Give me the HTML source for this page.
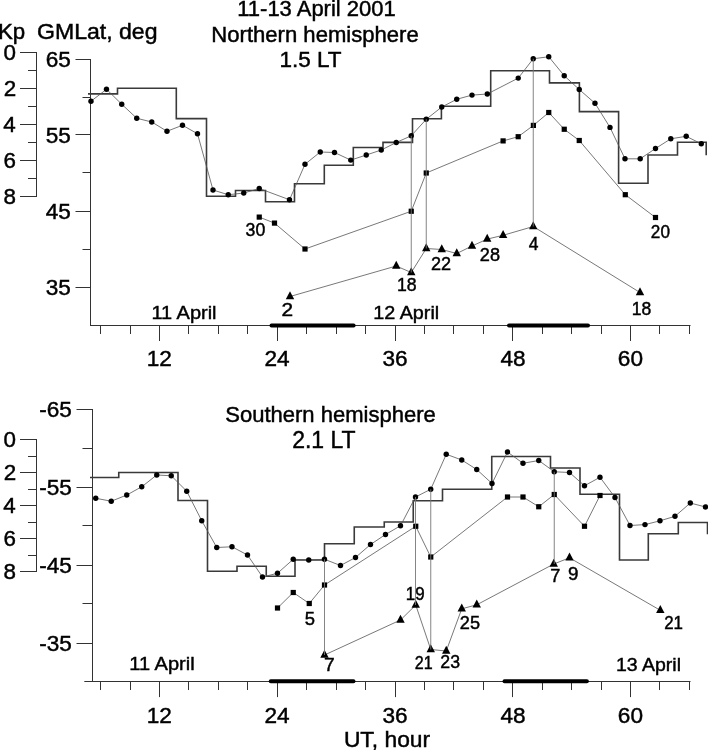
<!DOCTYPE html>
<html><head><meta charset="utf-8"><style>
html,body{margin:0;padding:0;background:#fff;}
svg{display:block;filter:grayscale(1);}
text{font-family:"Liberation Sans",sans-serif;fill:#000;stroke:#000;stroke-width:0.45px;}
</style></head><body>
<svg width="708" height="750" viewBox="0 0 708 750">
<rect width="708" height="750" fill="#fff"/>
<line x1="36.5" y1="52.0" x2="36.5" y2="197.0" stroke="#333" stroke-width="1"/>
<line x1="20" y1="52.5" x2="36.5" y2="52.5" stroke="#333" stroke-width="1"/>
<line x1="28" y1="70.5" x2="36.5" y2="70.5" stroke="#333" stroke-width="1"/>
<line x1="20" y1="88.5" x2="36.5" y2="88.5" stroke="#333" stroke-width="1"/>
<line x1="28" y1="106.5" x2="36.5" y2="106.5" stroke="#333" stroke-width="1"/>
<line x1="20" y1="124.5" x2="36.5" y2="124.5" stroke="#333" stroke-width="1"/>
<line x1="28" y1="142.5" x2="36.5" y2="142.5" stroke="#333" stroke-width="1"/>
<line x1="20" y1="160.5" x2="36.5" y2="160.5" stroke="#333" stroke-width="1"/>
<line x1="28" y1="178.5" x2="36.5" y2="178.5" stroke="#333" stroke-width="1"/>
<line x1="20" y1="196.5" x2="36.5" y2="196.5" stroke="#333" stroke-width="1"/>
<line x1="90.5" y1="59.0" x2="90.5" y2="326.0" stroke="#333" stroke-width="1"/>
<line x1="75.5" y1="59.5" x2="90.5" y2="59.5" stroke="#333" stroke-width="1"/>
<line x1="75.5" y1="134.5" x2="90.5" y2="134.5" stroke="#333" stroke-width="1"/>
<line x1="75.5" y1="211.5" x2="90.5" y2="211.5" stroke="#333" stroke-width="1"/>
<line x1="75.5" y1="287.5" x2="90.5" y2="287.5" stroke="#333" stroke-width="1"/>
<line x1="82.5" y1="97.5" x2="90.5" y2="97.5" stroke="#333" stroke-width="1"/>
<line x1="82.5" y1="172.5" x2="90.5" y2="172.5" stroke="#333" stroke-width="1"/>
<line x1="82.5" y1="249.5" x2="90.5" y2="249.5" stroke="#333" stroke-width="1"/>
<line x1="90.3" y1="325.5" x2="690.5" y2="325.5" stroke="#333" stroke-width="1"/>
<line x1="100.5" y1="325.5" x2="100.5" y2="334.0" stroke="#333" stroke-width="1"/>
<line x1="130.5" y1="325.5" x2="130.5" y2="334.0" stroke="#333" stroke-width="1"/>
<line x1="159.5" y1="325.5" x2="159.5" y2="341.0" stroke="#333" stroke-width="1"/>
<line x1="188.5" y1="325.5" x2="188.5" y2="334.0" stroke="#333" stroke-width="1"/>
<line x1="218.5" y1="325.5" x2="218.5" y2="334.0" stroke="#333" stroke-width="1"/>
<line x1="247.5" y1="325.5" x2="247.5" y2="334.0" stroke="#333" stroke-width="1"/>
<line x1="277.5" y1="325.5" x2="277.5" y2="341.0" stroke="#333" stroke-width="1"/>
<line x1="306.5" y1="325.5" x2="306.5" y2="334.0" stroke="#333" stroke-width="1"/>
<line x1="336.5" y1="325.5" x2="336.5" y2="334.0" stroke="#333" stroke-width="1"/>
<line x1="365.5" y1="325.5" x2="365.5" y2="334.0" stroke="#333" stroke-width="1"/>
<line x1="395.5" y1="325.5" x2="395.5" y2="341.0" stroke="#333" stroke-width="1"/>
<line x1="424.5" y1="325.5" x2="424.5" y2="334.0" stroke="#333" stroke-width="1"/>
<line x1="453.5" y1="325.5" x2="453.5" y2="334.0" stroke="#333" stroke-width="1"/>
<line x1="483.5" y1="325.5" x2="483.5" y2="334.0" stroke="#333" stroke-width="1"/>
<line x1="512.5" y1="325.5" x2="512.5" y2="341.0" stroke="#333" stroke-width="1"/>
<line x1="542.5" y1="325.5" x2="542.5" y2="334.0" stroke="#333" stroke-width="1"/>
<line x1="571.5" y1="325.5" x2="571.5" y2="334.0" stroke="#333" stroke-width="1"/>
<line x1="601.5" y1="325.5" x2="601.5" y2="334.0" stroke="#333" stroke-width="1"/>
<line x1="630.5" y1="325.5" x2="630.5" y2="341.0" stroke="#333" stroke-width="1"/>
<line x1="659.5" y1="325.5" x2="659.5" y2="334.0" stroke="#333" stroke-width="1"/>
<line x1="689.5" y1="325.5" x2="689.5" y2="334.0" stroke="#333" stroke-width="1"/>
<line x1="271.5" y1="325.6" x2="353.6" y2="325.6" stroke="#000" stroke-width="4" stroke-linecap="round"/>
<line x1="509" y1="325.6" x2="588" y2="325.6" stroke="#000" stroke-width="4" stroke-linecap="round"/>
<path d="M88,93.9 H117.5 V88.2 H176.3 V118.6 H206.5 V196.3 H235.5 V190.5 H265.5 V201.8 H294.5 V183.7 H324.3 V165.2 H353.3 V147.5 H383 V142.4 H412.5 V118.7 H441.4 V106.2 H490.7 V70.7 H549.5 V82.9 H579.4 V111.6 H618.6 V183.3 H648 V155 H677.5 V142.2 H706.2 V155.3" fill="none" stroke="#3a3a3a" stroke-width="1.6" stroke-linejoin="miter"/>
<polyline points="91,101.25 106.5,89.25 121.75,104.25 136.75,118.25 151.75,122 167,131.25 182.5,125.25 197.5,133.75 213,190 228.25,194.75 243.75,193 259.25,188.5 289.5,199.75 305,164.25 320.25,152 334.5,152.5 350.75,160.1 366.25,155 381.25,150 396.25,142.5 411.25,135.75 426.25,119.25 441.75,107 456.75,99.25 472,95.1 487.3,94 518.25,78.1 533.25,58.75 548.75,56.75 564.25,75.75 579.25,89.5 595,103.25 610,127.4 625,158.8 640.2,158.8 655.5,148.5 670.8,138.8 686.2,136.3 701.3,143.8" fill="none" stroke="#555" stroke-width="0.8" stroke-linejoin="round"/>
<polyline points="259.25,217.1 274.5,223.1 305,249 411.25,211.25 426.25,173 503.1,140.9 518.2,136.7 533.4,125.4 548.75,112.5 564.25,129.25 579.25,140.5 625.3,194.7 655.5,217.5" fill="none" stroke="#555" stroke-width="0.8" stroke-linejoin="round"/>
<polyline points="290,296.5 396.25,266 411.25,272.5 426.25,248.5 441.75,249.5 456.75,253.5 472,246 487.2,239.1 503.1,235.3 533.25,226.5 640,292.5" fill="none" stroke="#555" stroke-width="0.8" stroke-linejoin="round"/>
<circle cx="91" cy="101.25" r="2.7"/>
<circle cx="106.5" cy="89.25" r="2.7"/>
<circle cx="121.75" cy="104.25" r="2.7"/>
<circle cx="136.75" cy="118.25" r="2.7"/>
<circle cx="151.75" cy="122" r="2.7"/>
<circle cx="167" cy="131.25" r="2.7"/>
<circle cx="182.5" cy="125.25" r="2.7"/>
<circle cx="197.5" cy="133.75" r="2.7"/>
<circle cx="213" cy="190" r="2.7"/>
<circle cx="228.25" cy="194.75" r="2.7"/>
<circle cx="243.75" cy="193" r="2.7"/>
<circle cx="259.25" cy="188.5" r="2.7"/>
<circle cx="289.5" cy="199.75" r="2.7"/>
<circle cx="305" cy="164.25" r="2.7"/>
<circle cx="320.25" cy="152" r="2.7"/>
<circle cx="334.5" cy="152.5" r="2.7"/>
<circle cx="350.75" cy="160.1" r="2.7"/>
<circle cx="366.25" cy="155" r="2.7"/>
<circle cx="381.25" cy="150" r="2.7"/>
<circle cx="396.25" cy="142.5" r="2.7"/>
<circle cx="411.25" cy="135.75" r="2.7"/>
<circle cx="426.25" cy="119.25" r="2.7"/>
<circle cx="441.75" cy="107" r="2.7"/>
<circle cx="456.75" cy="99.25" r="2.7"/>
<circle cx="472" cy="95.1" r="2.7"/>
<circle cx="487.3" cy="94" r="2.7"/>
<circle cx="518.25" cy="78.1" r="2.7"/>
<circle cx="533.25" cy="58.75" r="2.7"/>
<circle cx="548.75" cy="56.75" r="2.7"/>
<circle cx="564.25" cy="75.75" r="2.7"/>
<circle cx="579.25" cy="89.5" r="2.7"/>
<circle cx="595" cy="103.25" r="2.7"/>
<circle cx="610" cy="127.4" r="2.7"/>
<circle cx="625" cy="158.8" r="2.7"/>
<circle cx="640.2" cy="158.8" r="2.7"/>
<circle cx="655.5" cy="148.5" r="2.7"/>
<circle cx="670.8" cy="138.8" r="2.7"/>
<circle cx="686.2" cy="136.3" r="2.7"/>
<circle cx="701.3" cy="143.8" r="2.7"/>
<rect x="256.65" y="214.50" width="5.2" height="5.2"/>
<rect x="271.90" y="220.50" width="5.2" height="5.2"/>
<rect x="302.40" y="246.40" width="5.2" height="5.2"/>
<rect x="408.65" y="208.65" width="5.2" height="5.2"/>
<rect x="423.65" y="170.40" width="5.2" height="5.2"/>
<rect x="500.50" y="138.30" width="5.2" height="5.2"/>
<rect x="515.60" y="134.10" width="5.2" height="5.2"/>
<rect x="530.80" y="122.80" width="5.2" height="5.2"/>
<rect x="546.15" y="109.90" width="5.2" height="5.2"/>
<rect x="561.65" y="126.65" width="5.2" height="5.2"/>
<rect x="576.65" y="137.90" width="5.2" height="5.2"/>
<rect x="622.70" y="192.10" width="5.2" height="5.2"/>
<rect x="652.90" y="214.90" width="5.2" height="5.2"/>
<path d="M290.00,291.17L294.20,299.17L285.80,299.17Z"/>
<path d="M396.25,260.67L400.45,268.67L392.05,268.67Z"/>
<path d="M411.25,267.17L415.45,275.17L407.05,275.17Z"/>
<path d="M426.25,243.17L430.45,251.17L422.05,251.17Z"/>
<path d="M441.75,244.17L445.95,252.17L437.55,252.17Z"/>
<path d="M456.75,248.17L460.95,256.17L452.55,256.17Z"/>
<path d="M472.00,240.67L476.20,248.67L467.80,248.67Z"/>
<path d="M487.20,233.77L491.40,241.77L483.00,241.77Z"/>
<path d="M503.10,229.97L507.30,237.97L498.90,237.97Z"/>
<path d="M533.25,221.17L537.45,229.17L529.05,229.17Z"/>
<path d="M640.00,287.17L644.20,295.17L635.80,295.17Z"/>
<line x1="411.25" y1="135.75" x2="411.25" y2="272.5" stroke="#777" stroke-width="0.9"/>
<line x1="426.25" y1="119.25" x2="426.25" y2="248.5" stroke="#777" stroke-width="0.9"/>
<line x1="533.25" y1="58.75" x2="533.25" y2="226.5" stroke="#777" stroke-width="0.9"/>
<line x1="36.5" y1="439.0" x2="36.5" y2="572.0" stroke="#333" stroke-width="1"/>
<line x1="20" y1="439.5" x2="36.5" y2="439.5" stroke="#333" stroke-width="1"/>
<line x1="28" y1="456.5" x2="36.5" y2="456.5" stroke="#333" stroke-width="1"/>
<line x1="20" y1="472.5" x2="36.5" y2="472.5" stroke="#333" stroke-width="1"/>
<line x1="28" y1="489.5" x2="36.5" y2="489.5" stroke="#333" stroke-width="1"/>
<line x1="20" y1="505.5" x2="36.5" y2="505.5" stroke="#333" stroke-width="1"/>
<line x1="28" y1="522.5" x2="36.5" y2="522.5" stroke="#333" stroke-width="1"/>
<line x1="20" y1="538.5" x2="36.5" y2="538.5" stroke="#333" stroke-width="1"/>
<line x1="28" y1="555.5" x2="36.5" y2="555.5" stroke="#333" stroke-width="1"/>
<line x1="20" y1="571.5" x2="36.5" y2="571.5" stroke="#333" stroke-width="1"/>
<line x1="92.5" y1="409.0" x2="92.5" y2="682.0" stroke="#333" stroke-width="1"/>
<line x1="76.5" y1="409.5" x2="92.5" y2="409.5" stroke="#333" stroke-width="1"/>
<line x1="76.5" y1="487.5" x2="92.5" y2="487.5" stroke="#333" stroke-width="1"/>
<line x1="76.5" y1="565.5" x2="92.5" y2="565.5" stroke="#333" stroke-width="1"/>
<line x1="76.5" y1="643.5" x2="92.5" y2="643.5" stroke="#333" stroke-width="1"/>
<line x1="82.5" y1="448.5" x2="92.5" y2="448.5" stroke="#333" stroke-width="1"/>
<line x1="82.5" y1="525.5" x2="92.5" y2="525.5" stroke="#333" stroke-width="1"/>
<line x1="82.5" y1="603.5" x2="92.5" y2="603.5" stroke="#333" stroke-width="1"/>
<line x1="84.3" y1="681.5" x2="690.5" y2="681.5" stroke="#333" stroke-width="1"/>
<line x1="100.5" y1="681.5" x2="100.5" y2="690.0" stroke="#333" stroke-width="1"/>
<line x1="130.5" y1="681.5" x2="130.5" y2="690.0" stroke="#333" stroke-width="1"/>
<line x1="159.5" y1="681.5" x2="159.5" y2="697.1" stroke="#333" stroke-width="1"/>
<line x1="188.5" y1="681.5" x2="188.5" y2="690.0" stroke="#333" stroke-width="1"/>
<line x1="218.5" y1="681.5" x2="218.5" y2="690.0" stroke="#333" stroke-width="1"/>
<line x1="247.5" y1="681.5" x2="247.5" y2="690.0" stroke="#333" stroke-width="1"/>
<line x1="277.5" y1="681.5" x2="277.5" y2="697.1" stroke="#333" stroke-width="1"/>
<line x1="306.5" y1="681.5" x2="306.5" y2="690.0" stroke="#333" stroke-width="1"/>
<line x1="336.5" y1="681.5" x2="336.5" y2="690.0" stroke="#333" stroke-width="1"/>
<line x1="365.5" y1="681.5" x2="365.5" y2="690.0" stroke="#333" stroke-width="1"/>
<line x1="395.5" y1="681.5" x2="395.5" y2="697.1" stroke="#333" stroke-width="1"/>
<line x1="424.5" y1="681.5" x2="424.5" y2="690.0" stroke="#333" stroke-width="1"/>
<line x1="453.5" y1="681.5" x2="453.5" y2="690.0" stroke="#333" stroke-width="1"/>
<line x1="483.5" y1="681.5" x2="483.5" y2="690.0" stroke="#333" stroke-width="1"/>
<line x1="512.5" y1="681.5" x2="512.5" y2="697.1" stroke="#333" stroke-width="1"/>
<line x1="542.5" y1="681.5" x2="542.5" y2="690.0" stroke="#333" stroke-width="1"/>
<line x1="571.5" y1="681.5" x2="571.5" y2="690.0" stroke="#333" stroke-width="1"/>
<line x1="601.5" y1="681.5" x2="601.5" y2="690.0" stroke="#333" stroke-width="1"/>
<line x1="630.5" y1="681.5" x2="630.5" y2="697.1" stroke="#333" stroke-width="1"/>
<line x1="659.5" y1="681.5" x2="659.5" y2="690.0" stroke="#333" stroke-width="1"/>
<line x1="689.5" y1="681.5" x2="689.5" y2="690.0" stroke="#333" stroke-width="1"/>
<line x1="270.75" y1="681.3" x2="353.5" y2="681.3" stroke="#000" stroke-width="4" stroke-linecap="round"/>
<line x1="504.5" y1="681.3" x2="586.9" y2="681.3" stroke="#000" stroke-width="4" stroke-linecap="round"/>
<path d="M90,477.5 H118.75 V472.5 H178 V500.5 H207.5 V571.25 H237 V566.25 H266.25 V576.25 H295 V560 H324.5 V543.75 H354.25 V527 H384.25 V522 H413.25 V500.75 H442.5 V489.25 H491.75 V456.5 H550.5 V468 H580 V494.25 H619.5 V560 H648.3 V533.7 H678.3 V522.5 H707.5 V534.2" fill="none" stroke="#3a3a3a" stroke-width="1.6" stroke-linejoin="miter"/>
<polyline points="95.75,498.25 111.25,501.25 126.75,495 141.75,486.75 156.75,475 171.25,475.75 186.75,491.25 201.75,520.75 216.75,547.5 232,546.75 247.5,555 262.5,577 277.5,573.25 293.25,559.25 308.75,560 324.5,559.25 340.5,565.5 355.5,557.5 370.5,544.5 385.5,534.5 400.5,525.75 415.5,497 430.75,489.25 446.25,454.25 461.75,460 476.75,469.5 492,483.5 507.5,452 523,463.25 538.75,460.5 554.25,471.75 569.5,472.5 584.5,485.75 600,477.25 615,497.5 630,525.5 645,524.6 660,520.8 675,516.3 690.3,503 705.5,507" fill="none" stroke="#555" stroke-width="0.8" stroke-linejoin="round"/>
<polyline points="277.5,608 293.25,592.5 309.25,603.5 324.5,585 415.75,526.25 430.75,557 507.5,497 523,497 538.75,506.75 554.25,494.5 584.5,526.25 600,495.5" fill="none" stroke="#555" stroke-width="0.8" stroke-linejoin="round"/>
<polyline points="324.5,655 400.5,620 415.75,605 430.75,649.5 446.25,651 461.75,608.8 476.75,604.8 553.75,564 569.5,557.8 660.3,610.3" fill="none" stroke="#555" stroke-width="0.8" stroke-linejoin="round"/>
<circle cx="95.75" cy="498.25" r="2.7"/>
<circle cx="111.25" cy="501.25" r="2.7"/>
<circle cx="126.75" cy="495" r="2.7"/>
<circle cx="141.75" cy="486.75" r="2.7"/>
<circle cx="156.75" cy="475" r="2.7"/>
<circle cx="171.25" cy="475.75" r="2.7"/>
<circle cx="186.75" cy="491.25" r="2.7"/>
<circle cx="201.75" cy="520.75" r="2.7"/>
<circle cx="216.75" cy="547.5" r="2.7"/>
<circle cx="232" cy="546.75" r="2.7"/>
<circle cx="247.5" cy="555" r="2.7"/>
<circle cx="262.5" cy="577" r="2.7"/>
<circle cx="277.5" cy="573.25" r="2.7"/>
<circle cx="293.25" cy="559.25" r="2.7"/>
<circle cx="308.75" cy="560" r="2.7"/>
<circle cx="324.5" cy="559.25" r="2.7"/>
<circle cx="340.5" cy="565.5" r="2.7"/>
<circle cx="355.5" cy="557.5" r="2.7"/>
<circle cx="370.5" cy="544.5" r="2.7"/>
<circle cx="385.5" cy="534.5" r="2.7"/>
<circle cx="400.5" cy="525.75" r="2.7"/>
<circle cx="415.5" cy="497" r="2.7"/>
<circle cx="430.75" cy="489.25" r="2.7"/>
<circle cx="446.25" cy="454.25" r="2.7"/>
<circle cx="461.75" cy="460" r="2.7"/>
<circle cx="476.75" cy="469.5" r="2.7"/>
<circle cx="492" cy="483.5" r="2.7"/>
<circle cx="507.5" cy="452" r="2.7"/>
<circle cx="523" cy="463.25" r="2.7"/>
<circle cx="538.75" cy="460.5" r="2.7"/>
<circle cx="554.25" cy="471.75" r="2.7"/>
<circle cx="569.5" cy="472.5" r="2.7"/>
<circle cx="584.5" cy="485.75" r="2.7"/>
<circle cx="600" cy="477.25" r="2.7"/>
<circle cx="615" cy="497.5" r="2.7"/>
<circle cx="630" cy="525.5" r="2.7"/>
<circle cx="645" cy="524.6" r="2.7"/>
<circle cx="660" cy="520.8" r="2.7"/>
<circle cx="675" cy="516.3" r="2.7"/>
<circle cx="690.3" cy="503" r="2.7"/>
<circle cx="705.5" cy="507" r="2.7"/>
<rect x="274.90" y="605.40" width="5.2" height="5.2"/>
<rect x="290.65" y="589.90" width="5.2" height="5.2"/>
<rect x="306.65" y="600.90" width="5.2" height="5.2"/>
<rect x="321.90" y="582.40" width="5.2" height="5.2"/>
<rect x="413.15" y="523.65" width="5.2" height="5.2"/>
<rect x="428.15" y="554.40" width="5.2" height="5.2"/>
<rect x="504.90" y="494.40" width="5.2" height="5.2"/>
<rect x="520.40" y="494.40" width="5.2" height="5.2"/>
<rect x="536.15" y="504.15" width="5.2" height="5.2"/>
<rect x="551.65" y="491.90" width="5.2" height="5.2"/>
<rect x="581.90" y="523.65" width="5.2" height="5.2"/>
<rect x="597.40" y="492.90" width="5.2" height="5.2"/>
<path d="M324.50,649.67L328.70,657.67L320.30,657.67Z"/>
<path d="M400.50,614.67L404.70,622.67L396.30,622.67Z"/>
<path d="M415.75,599.67L419.95,607.67L411.55,607.67Z"/>
<path d="M430.75,644.17L434.95,652.17L426.55,652.17Z"/>
<path d="M446.25,645.67L450.45,653.67L442.05,653.67Z"/>
<path d="M461.75,603.47L465.95,611.47L457.55,611.47Z"/>
<path d="M476.75,599.47L480.95,607.47L472.55,607.47Z"/>
<path d="M553.75,558.67L557.95,566.67L549.55,566.67Z"/>
<path d="M569.50,552.47L573.70,560.47L565.30,560.47Z"/>
<path d="M660.30,604.97L664.50,612.97L656.10,612.97Z"/>
<line x1="324.5" y1="559.25" x2="324.5" y2="655" stroke="#777" stroke-width="0.9"/>
<line x1="415.5" y1="497" x2="415.5" y2="605" stroke="#777" stroke-width="0.9"/>
<line x1="430.75" y1="489.25" x2="430.75" y2="649.5" stroke="#777" stroke-width="0.9"/>
<line x1="554.25" y1="471.75" x2="554.25" y2="564" stroke="#777" stroke-width="0.9"/>
<text transform="translate(237.25,16.00) scale(1.0155,1)" font-size="21.66">11-13 April 2001</text>
<text transform="translate(211.33,41.60) scale(1.0202,1)" font-size="21.66">Northern hemisphere</text>
<text transform="translate(279.41,66.80) scale(0.9895,1)" font-size="22.75">1.5 LT</text>
<text transform="translate(-1.98,38.60) scale(1.0526,1)" font-size="21.16">Kp</text>
<text transform="translate(37.05,39.20) scale(1.0862,1)" font-size="21.24">GMLat, deg</text>
<text transform="translate(3.46,60.14) scale(1.0000,1)" font-size="22.40">0</text>
<text transform="translate(3.69,96.14) scale(1.0000,1)" font-size="22.40">2</text>
<text transform="translate(3.24,132.03) scale(1.0000,1)" font-size="22.40">4</text>
<text transform="translate(3.58,168.14) scale(1.0000,1)" font-size="22.40">6</text>
<text transform="translate(3.46,204.14) scale(1.0000,1)" font-size="22.40">8</text>
<text transform="translate(45.72,66.91) scale(1.0000,1)" font-size="22.60">65</text>
<text transform="translate(45.72,142.50) scale(1.0000,1)" font-size="22.60">55</text>
<text transform="translate(45.72,218.80) scale(1.0000,1)" font-size="22.60">45</text>
<text transform="translate(45.72,294.91) scale(1.0000,1)" font-size="22.60">35</text>
<text transform="translate(146.67,366.11) scale(1.0000,1)" font-size="22.60">12</text>
<text transform="translate(264.48,366.11) scale(1.0000,1)" font-size="22.60">24</text>
<text transform="translate(382.51,366.11) scale(1.0000,1)" font-size="22.60">36</text>
<text transform="translate(500.38,366.11) scale(1.0000,1)" font-size="22.60">48</text>
<text transform="translate(617.84,366.11) scale(1.0000,1)" font-size="22.60">60</text>
<text transform="translate(151.40,319.30) scale(1.0584,1)" font-size="18.90">11 April</text>
<text transform="translate(373.21,318.80) scale(1.0409,1)" font-size="19.03">12 April</text>
<text transform="translate(245.54,235.70) scale(0.9844,1)" font-size="18.00">30</text>
<text transform="translate(281.46,315.90) scale(1.1600,1)" font-size="18.00">2</text>
<text transform="translate(396.97,290.60) scale(0.9827,1)" font-size="18.00">18</text>
<text transform="translate(430.99,270.00) scale(1.0066,1)" font-size="18.00">22</text>
<text transform="translate(479.84,260.90) scale(1.0076,1)" font-size="18.00">28</text>
<text transform="translate(528.81,250.21) scale(0.9722,1)" font-size="18.00">4</text>
<text transform="translate(650.84,238.40) scale(0.9532,1)" font-size="18.00">20</text>
<text transform="translate(631.68,314.80) scale(0.9771,1)" font-size="18.00">18</text>
<text transform="translate(225.21,422.20) scale(0.9919,1)" font-size="22.21">Southern hemisphere</text>
<text transform="translate(292.15,448.20) scale(0.9866,1)" font-size="23.29">2.1 LT</text>
<text transform="translate(3.46,447.34) scale(1.0000,1)" font-size="22.40">0</text>
<text transform="translate(3.69,480.34) scale(1.0000,1)" font-size="22.40">2</text>
<text transform="translate(3.24,513.23) scale(1.0000,1)" font-size="22.40">4</text>
<text transform="translate(3.58,546.34) scale(1.0000,1)" font-size="22.40">6</text>
<text transform="translate(3.46,579.34) scale(1.0000,1)" font-size="22.40">8</text>
<text transform="translate(39.25,417.41) scale(1.0000,1)" font-size="22.60">-65</text>
<text transform="translate(39.25,495.30) scale(1.0000,1)" font-size="22.60">-55</text>
<text transform="translate(39.25,573.10) scale(1.0000,1)" font-size="22.60">-45</text>
<text transform="translate(39.25,650.91) scale(1.0000,1)" font-size="22.60">-35</text>
<text transform="translate(146.67,722.51) scale(1.0000,1)" font-size="22.60">12</text>
<text transform="translate(264.48,722.51) scale(1.0000,1)" font-size="22.60">24</text>
<text transform="translate(382.51,722.51) scale(1.0000,1)" font-size="22.60">36</text>
<text transform="translate(500.38,722.51) scale(1.0000,1)" font-size="22.60">48</text>
<text transform="translate(617.84,722.51) scale(1.0000,1)" font-size="22.60">60</text>
<text transform="translate(129.30,669.90) scale(1.0758,1)" font-size="18.62">11 April</text>
<text transform="translate(616.04,670.70) scale(1.0244,1)" font-size="19.03">13 April</text>
<text transform="translate(343.89,746.90) scale(1.0028,1)" font-size="22.76">UT, hour</text>
<text transform="translate(304.76,625.31) scale(1.0234,1)" font-size="18.00">5</text>
<text transform="translate(324.04,670.61) scale(1.0684,1)" font-size="18.00">7</text>
<text transform="translate(405.73,600.40) scale(0.9400,1)" font-size="18.00">19</text>
<text transform="translate(414.70,669.40) scale(0.8938,1)" font-size="18.00">21</text>
<text transform="translate(440.36,667.90) scale(0.9852,1)" font-size="18.00">23</text>
<text transform="translate(459.84,629.40) scale(1.0076,1)" font-size="18.00">25</text>
<text transform="translate(550.34,582.21) scale(1.0073,1)" font-size="18.00">7</text>
<text transform="translate(567.90,580.20) scale(1.0454,1)" font-size="18.00">9</text>
<text transform="translate(664.15,629.20) scale(0.9406,1)" font-size="18.00">21</text>
</svg>
</body></html>
